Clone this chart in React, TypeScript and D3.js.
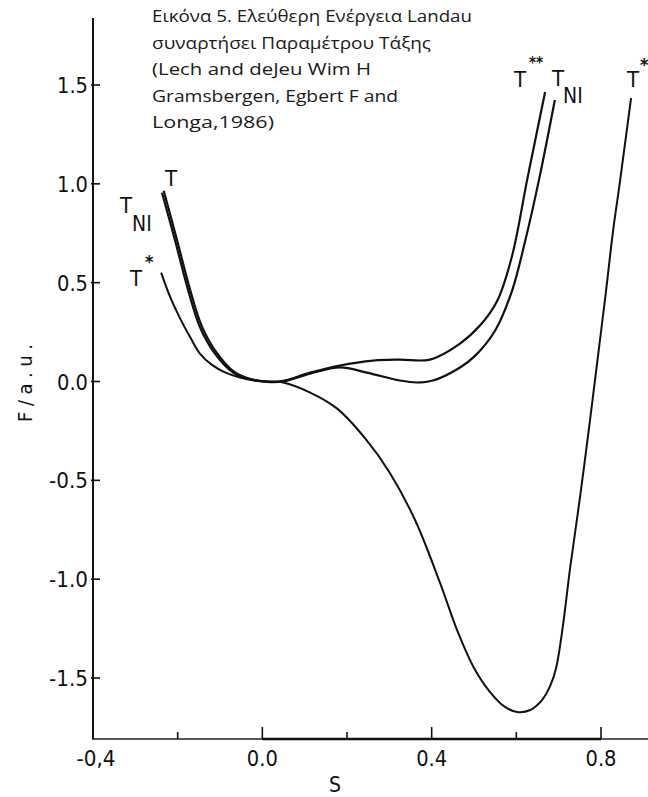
import React from 'react';
import * as d3 from 'd3';

// [S, F] readings for each curve
const curveTstar: [number, number][] = [
  [-0.239, 0.551], [-0.218, 0.429], [-0.194, 0.318], [-0.17, 0.222], [-0.147, 0.14],
  [-0.119, 0.084], [-0.088, 0.046], [-0.053, 0.02], [-0.005, 0.002], [0.049, -0.005],
  [0.113, -0.056], [0.176, -0.136], [0.243, -0.288], [0.302, -0.465], [0.361, -0.702],
  [0.42, -1.02], [0.462, -1.268], [0.5, -1.449], [0.538, -1.571], [0.573, -1.646],
  [0.602, -1.672], [0.633, -1.662], [0.659, -1.616], [0.68, -1.54], [0.694, -1.449],
  [0.71, -1.237], [0.727, -0.944], [0.751, -0.576], [0.774, -0.197],
  [0.793, 0.131], [0.812, 0.46], [0.828, 0.753], [0.845, 1.015], [0.871, 1.434],
];

const curveTNI: [number, number][] = [
  [-0.237, 0.955], [-0.206, 0.712], [-0.175, 0.46], [-0.147, 0.273], [-0.112, 0.141],
  [-0.069, 0.045], [-0.029, 0.01], [0.018, -0.003], [0.049, 0.0], [0.113, 0.04],
  [0.183, 0.071], [0.247, 0.045], [0.325, 0.005], [0.365, -0.005], [0.403, 0.005],
  [0.467, 0.071], [0.503, 0.131], [0.55, 0.258], [0.59, 0.46], [0.621, 0.712],
  [0.654, 1.025], [0.691, 1.424],
];

const curveT2star: [number, number][] = [
  [-0.233, 0.965], [-0.202, 0.72], [-0.171, 0.468], [-0.143, 0.28], [-0.108, 0.146],
  [-0.066, 0.048], [-0.027, 0.012], [0.018, -0.002], [0.049, 0.003], [0.113, 0.045],
  [0.183, 0.081], [0.262, 0.106], [0.325, 0.111], [0.396, 0.111], [0.467, 0.192],
  [0.514, 0.283], [0.555, 0.409], [0.59, 0.636], [0.626, 1.025], [0.668, 1.465],
];

const xMinor = [-0.2, 0.2, 0.6];
const xMajor = [-0.4, 0, 0.4, 0.8];
const xLabels = ['-0,4', '0.0', '0.4', '0.8'];
const yTicks = [1.5, 1, 0.5, 0, -0.5, -1, -1.5];
const yLabels = ['1.5', '1.0', '0.5', '0.0', '-0.5', '-1.0', '-1.5'];

const captionLines = [
  'Εικόνα 5. Ελεύθερη Ενέργεια Landau',
  'συναρτήσει Παραμέτρου Τάξης',
  '(Lech and deJeu Wim H',
  'Gramsbergen, Egbert F and',
  'Longa,1986)',
];
const captionWidths = [320, 279, 219, 246, 122];

const W = 648;
const H = 797;
const axisFont = '"DejaVu Sans Condensed", "DejaVu Sans", sans-serif';

// rough label width in px, condensed like the scanned figure
const labelWidth = (s: string) =>
  s.split('').reduce((w, c) => w + (c === '.' || c === ',' ? 6 : c === '-' ? 8 : 12.5), 0);

const App: React.FC = () => {
  const x = d3.scaleLinear().domain([-0.4, 0.8]).range([93, 601]);
  const y = d3.scaleLinear().domain([-1.5, 1.5]).range([678, 85]);
  const baseY = 739;
  const topY = 18;
  const x0 = x(-0.4);

  const line = d3.line<[number, number]>()
    .x(d => x(d[0]))
    .y(d => y(d[1]))
    .curve(d3.curveCatmullRom.alpha(0.5));

  return (
    <svg width={W} height={H} style={{ position: 'absolute', left: 0, top: 0, background: '#fff' }}>
      {/* caption */}
      {captionLines.map((t, i) => (
        <text key={t} x={152} y={22 + i * 26.5} fontSize={15.5}
          fontFamily='"Open Sans", "Noto Sans", sans-serif' fill="#1a1a1a"
          textLength={captionWidths[i]} lengthAdjust="spacingAndGlyphs">{t}</text>
      ))}

      {/* axes */}
      <line x1={x0} x2={x0} y1={topY} y2={baseY} stroke="#111" strokeWidth={2} />
      <line x1={x0 - 1} x2={W} y1={baseY} y2={baseY} stroke="#222" strokeWidth={1.6} />
      <line x1={x(0)} x2={x(0.8)} y1={baseY} y2={baseY} stroke="#111" strokeWidth={2.6} />

      {xMajor.map(v => (
        <line key={'M' + v} x1={x(v)} x2={x(v)} y1={baseY} y2={baseY - 12} stroke="#111" strokeWidth={1.6} />
      ))}
      {xMinor.map(v => (
        <line key={'m' + v} x1={x(v)} x2={x(v)} y1={baseY} y2={baseY - 7} stroke="#111" strokeWidth={1.6} />
      ))}
      {xMajor.map((v, i) => (
        <text key={'xl' + v} x={x(v) + (i === 0 ? 3 : 0)} y={766} textAnchor="middle"
          fontSize={21} fontFamily={axisFont} fill="#111"
          textLength={labelWidth(xLabels[i])} lengthAdjust="spacingAndGlyphs">{xLabels[i]}</text>
      ))}
      <text x={335} y={792} textAnchor="middle" fontSize={21} fontFamily={axisFont} fill="#111">S</text>

      {yTicks.map((v, i) => (
        <g key={'y' + v}>
          <line x1={x0 - 2} x2={x0 + 7} y1={y(v)} y2={y(v)} stroke="#111" strokeWidth={1.6} />
          <text x={88} y={y(v) + 8} textAnchor="end" fontSize={21} fontFamily={axisFont} fill="#111"
            textLength={labelWidth(yLabels[i])} lengthAdjust="spacingAndGlyphs">{yLabels[i]}</text>
        </g>
      ))}
      <text transform="translate(32,383) rotate(-90)" textAnchor="middle" fontSize={20}
        fontFamily={axisFont} fill="#111" textLength={78} lengthAdjust="spacing">F/a.u.</text>

      {/* curves */}
      <path d={line(curveTstar) || ''} fill="none" stroke="#111" strokeWidth={2} />
      <path d={line(curveTNI) || ''} fill="none" stroke="#111" strokeWidth={2.2} />
      <path d={line(curveT2star) || ''} fill="none" stroke="#111" strokeWidth={2.2} />

      {/* curve labels */}
      <g fontFamily={axisFont} fill="#111" fontSize={22}>
        <text x={171} y={186} textAnchor="middle">T</text>
        <text x={120} y={213}>T</text>
        <text x={132} y={231} fontSize={21}>NI</text>
        <text x={130} y={286}>T</text>
        <text x={145} y={268} fontSize={18} fontWeight="bold">*</text>

        <text x={514} y={87}>T</text>
        <text x={529} y={68} fontSize={15} fontWeight="bold">**</text>
        <text x={552} y={86}>T</text>
        <text x={563} y={103} fontSize={21}>NI</text>
        <text x={627} y={87}>T</text>
        <text x={640} y={71} fontSize={18} fontWeight="bold">*</text>
      </g>
    </svg>
  );
};

export default App;
